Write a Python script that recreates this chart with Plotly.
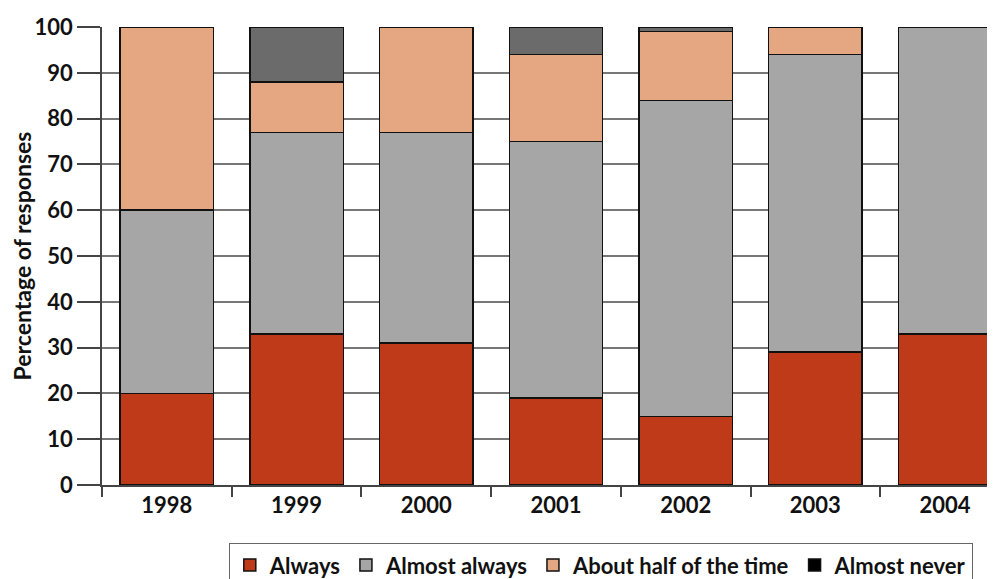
import plotly.graph_objects as go

years = ["1998", "1999", "2000", "2001", "2002", "2003", "2004"]
always = [20, 33, 31, 19, 15, 29, 33]
almost_always = [40, 44, 46, 56, 69, 65, 67]
about_half = [40, 11, 23, 19, 15, 6, 0]
almost_never = [0, 12, 0, 6, 1, 0, 0]
y_ticks = [0, 10, 20, 30, 40, 50, 60, 70, 80, 90, 100]

series_names = ["Always", "Almost always", "About half of the time", "Almost never"]
series_values = [always, almost_always, about_half, almost_never]
series_colors = ["#BF3A19", "#A6A6A6", "#E4A782",
                 ["#000000", "#6B6B6B", "#6B6B6B", "#6B6B6B", "#6B6B6B", "#6B6B6B", "#6B6B6B"]]

FONT = "Lato"
W = "bold"

fig = go.Figure()
for name, vals, col in zip(series_names, series_values, series_colors):
    fig.add_trace(go.Bar(
        x=years, y=vals, name=name,
        marker=dict(color=col, line=dict(color="#111111", width=1.5)),
        width=0.72,
    ))

# the page body adds an 8px offset; margins compensate for it
fig.update_layout(
    barmode="stack",
    width=995, height=579,
    margin=dict(l=94, r=8, t=19, b=102, pad=0, autoexpand=False),
    plot_bgcolor="white", paper_bgcolor="white",
    font=dict(family=FONT, size=21, color="#111111", weight=W),
    showlegend=True,
    legend=dict(
        orientation="h", x=0.142, xanchor="left", y=-0.127, yanchor="top",
        bordercolor="#666666", borderwidth=1,
        font=dict(family=FONT, size=22, color="#111111", weight=W),
        traceorder="normal", itemclick=False,
    ),
)
fig.update_xaxes(
    type="category", range=[-0.5, 6.385], automargin=False,
    showgrid=False, showline=True, linecolor="#444444", linewidth=1.5,
    ticks="outside", tickson="boundaries", ticklen=10, tickcolor="#444444", tickwidth=1.5,
    tickfont=dict(family=FONT, size=22, color="#111111", weight=W),
)
fig.update_yaxes(
    range=[0, 100], tickvals=y_ticks, automargin=False,
    showgrid=True, gridcolor="#777777", gridwidth=1.5,
    showline=True, linecolor="#444444", linewidth=1.5,
    ticks="outside", ticklen=23, tickcolor="#444444", tickwidth=1.5,
    tickfont=dict(family=FONT, size=22, color="#111111", weight=W),
    zeroline=False,
    title=dict(text="Percentage of responses", standoff=6,
               font=dict(family=FONT, size=23, color="#111111", weight=W)),
)

fig.write_html("out.html")
